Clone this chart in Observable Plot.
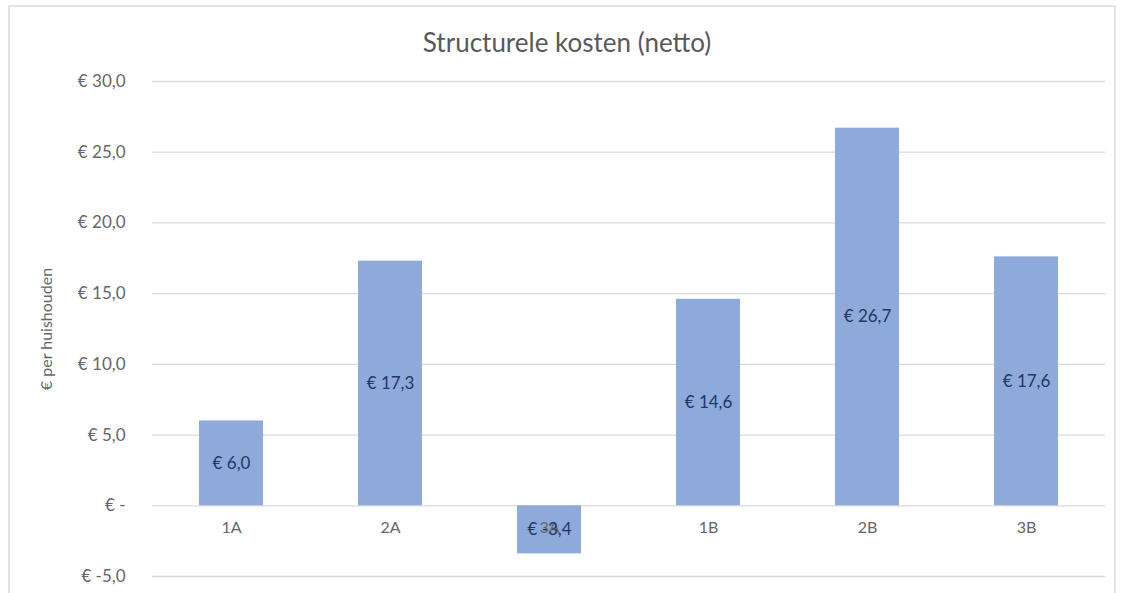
<!DOCTYPE html>
<html>
<head>
<meta charset="utf-8">
<script src="https://cdn.jsdelivr.net/npm/d3@7"></script>
<script src="https://cdn.jsdelivr.net/npm/@observablehq/plot@0.6"></script>
<style>
  html, body { margin: 0; padding: 0; background: #fff; }
  #wrap { position: relative; width: 1123px; height: 593px; overflow: hidden; font-family: Lato, "Open Sans", sans-serif; }
  #frame { position: absolute; left: 8px; top: 5px; width: 1108px; height: 620px; border: 2px solid #e3e3e3; box-sizing: border-box; }
  #title { position: absolute; top: 27px; left: 0; width: 1134px; text-align: center; font-size: 26px; color: #595959; line-height: 30px; }
  #chart { position: absolute; left: 0; top: 60px; }
</style>
</head>
<body>
<div id="wrap">
  <div id="frame"></div>
  <div id="title">Structurele kosten (netto)</div>
  <div id="chart"></div>
</div>
<script>
// Scenarios and their net structural cost per household (euro)
const scenarios = ["1A", "2A", "3A", "1B", "2B", "3B"];
const kosten = [6.0, 17.3, -3.4, 14.6, 26.7, 17.6];
const yTicks = [-5, 0, 5, 10, 15, 20, 25, 30];
const yTitle = "€ per huishouden";

const data = scenarios.map((s, i) => ({scenario: s, waarde: kosten[i]}));

const euro = v => v === 0 ? "€ -" : "€ " + v.toFixed(1).replace(".", ",");

const axisGrey = "#666666";

const chart = Plot.plot({
  width: 1123,
  height: 533,
  marginTop: 21,
  marginBottom: 17,
  marginLeft: 152,
  marginRight: 18,
  style: {fontFamily: "Lato, 'Open Sans', sans-serif", background: "transparent"},
  x: {domain: scenarios, paddingInner: 0.6, paddingOuter: 0.28, axis: null},
  y: {domain: [-5, 30]},
  marks: [
    Plot.ruleY(yTicks, {stroke: "#d9d9d9", strokeWidth: 1.3}),
    Plot.barY(data, {x: "scenario", y: "waarde", fill: "#8eaadb"}),
    // category labels sit just under the zero line
    Plot.text(scenarios, {x: d => d, y: 0, dy: 22, fill: axisGrey, fontSize: 16}),
    // value labels in the middle of each bar
    Plot.text(data, {x: "scenario", y: d => d.waarde / 2, text: d => euro(d.waarde), fill: "#1f3864", fontSize: 17}),
    Plot.axisY({
      ticks: yTicks,
      tickFormat: euro,
      tickSize: 0,
      tickPadding: 27,
      fontSize: 17,
      color: axisGrey,
      label: null
    }),
    // rotated axis title, left of the tick labels
    Plot.text([yTitle], {frameAnchor: "left", textAnchor: "middle", rotate: -90, dx: -106, fontSize: 16, fill: axisGrey})
  ]
});
document.getElementById("chart").appendChild(chart);
</script>
</body>
</html>
